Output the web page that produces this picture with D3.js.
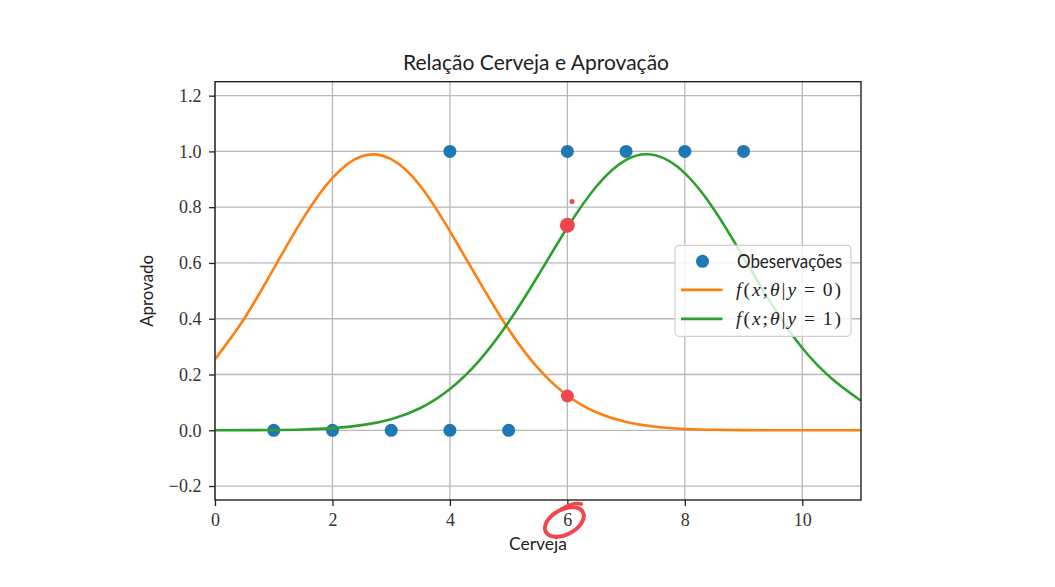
<!DOCTYPE html>
<html><head><meta charset="utf-8">
<script src="https://cdn.jsdelivr.net/npm/d3@7"></script>
<style>html,body{margin:0;padding:0;background:#fff;overflow:hidden}</style>
</head><body><svg id="chart" width="1055" height="587"></svg>
<script>
// ---- data ----
const curveX = [0,0.5,1,1.5,2,2.5,3,3.5,4,4.5,5,5.5,6,6.5,7,7.5,8,8.5,9,9.5,10,10.5,11];
const fY0 = [0.255,0.401,0.580,0.760,0.905,0.983,0.972,0.875,0.714,0.534,0.362,0.223,0.125,0.064,0.030,0.0126,0.0048,0.0017,0.0006,0.0002,0,0,0];
const fY1 = [0.0001,0.0004,0.0011,0.003,0.0077,0.0184,0.040,0.080,0.148,0.250,0.388,0.554,0.727,0.876,0.970,0.986,0.922,0.791,0.620,0.445,0.295,0.186,0.106];
const obsX = [1,2,3,4,5,4,6,7,8,9];
const obsY = [0,0,0,0,0,1,1,1,1,1];
const xTicks = [0,2,4,6,8,10];
const yTicks = [-0.2,0,0.2,0.4,0.6,0.8,1.0,1.2];
const markX = [6,6,6.08];
const markY = [0.735,0.123,0.82];
const titleText = "Relação Cerveja e Aprovação";
const xLabel = "Cerveja";
const yLabel = "Aprovado";
const legendLabels = ["Obeservações","f(x;θ|y = 0)","f(x;θ|y = 1)"];

// ---- drawing ----
const svg = d3.select("#chart");
const L = 215, R = 861, T = 81.7, B = 500;
const x = d3.scaleLinear().domain([0,11]).range([L,R]);
const y = d3.scaleLinear().domain([-0.25,1.25]).range([B,T]);
const serif = "'Liberation Serif','Times New Roman',serif";
const sans = "Lato,'Open Sans','DejaVu Sans',sans-serif";
const C_BLUE="#1f77b4", C_OR="#ff7f0e", C_GR="#2ca02c", C_RED="#f2464f";

svg.append("rect").attr("width",1055).attr("height",587).attr("fill","#fff");
svg.append("defs").append("clipPath").attr("id","clip")
  .append("rect").attr("x",L).attr("y",T).attr("width",R-L).attr("height",B-T);

// grid
const grid = svg.append("g");
grid.selectAll(".gx").data(xTicks).join("line")
  .attr("x1",d=>x(d)).attr("x2",d=>x(d)).attr("y1",T).attr("y2",B)
  .attr("stroke","#b8b8b8").attr("stroke-width",1.3);
grid.selectAll(".gy").data(yTicks).join("line")
  .attr("y1",d=>y(d)).attr("y2",d=>y(d)).attr("x1",L).attr("x2",R)
  .attr("stroke","#b8b8b8").attr("stroke-width",1.3);

// observations
const obs = obsX.map((v,i)=>({x:v,y:obsY[i]}));
svg.append("g").selectAll("circle").data(obs).join("circle")
  .attr("cx",d=>x(d.x)).attr("cy",d=>y(d.y)).attr("r",6.5).attr("fill",C_BLUE);

// curves
const line = d3.line().x(d=>x(d[0])).y(d=>y(d[1])).curve(d3.curveNatural);
const g = svg.append("g").attr("clip-path","url(#clip)");
g.append("path").datum(curveX.map((v,i)=>[v,fY0[i]])).attr("d",line)
  .attr("fill","none").attr("stroke",C_OR).attr("stroke-width",2.6);
g.append("path").datum(curveX.map((v,i)=>[v,fY1[i]])).attr("d",line)
  .attr("fill","none").attr("stroke",C_GR).attr("stroke-width",2.6);

// axes
const xAxis = d3.axisBottom(x).tickValues(xTicks).tickFormat(d3.format("d")).tickSize(6).tickPadding(7.5);
const yAxis = d3.axisLeft(y).tickValues(yTicks).tickFormat(d3.format(".1f")).tickSize(6).tickPadding(7.5);
const gx = svg.append("g").attr("transform",`translate(0,${B})`).call(xAxis);
const gy = svg.append("g").attr("transform",`translate(${L},0)`).call(yAxis);
[gx,gy].forEach(a=>{
  a.select(".domain").remove();
  a.selectAll(".tick line").attr("stroke","#222").attr("stroke-width",1.3);
  a.selectAll(".tick text").attr("font-family",serif).attr("font-size",18).attr("fill","#333");
});
// frame
svg.append("rect").attr("x",L).attr("y",T).attr("width",R-L).attr("height",B-T)
  .attr("fill","none").attr("stroke","#222").attr("stroke-width",1.4);

// title & labels
svg.append("text").attr("x",536).attr("y",70).attr("text-anchor","middle")
  .attr("font-family",sans).attr("font-size",21.5).attr("fill","#222")
  .attr("textLength",266).attr("lengthAdjust","spacingAndGlyphs").text(titleText);
svg.append("text").attr("x",(L+R)/2).attr("y",550).attr("text-anchor","middle")
  .attr("font-family",sans).attr("font-size",18).attr("fill","#222")
  .attr("textLength",58).attr("lengthAdjust","spacingAndGlyphs").text(xLabel);
svg.append("text").attr("transform",`translate(153,${(T+B)/2}) rotate(-90)`).attr("text-anchor","middle")
  .attr("font-family",sans).attr("font-size",18).attr("fill","#222")
  .attr("textLength",72).attr("lengthAdjust","spacingAndGlyphs").text(yLabel);

// legend
const lw = 176, lh = 91;
const lx = R - 10 - lw, ly = (T+B)/2 - lh/2;
const lg = svg.append("g");
lg.append("rect").attr("x",lx).attr("y",ly).attr("width",lw).attr("height",lh).attr("rx",4)
  .attr("fill","#fff").attr("fill-opacity",0.8).attr("stroke","#d0d0d0").attr("stroke-width",1.2);
const rowY = [ly+16, ly+44.5, ly+73.5];
lg.append("circle").attr("cx",lx+27.5).attr("cy",rowY[0]).attr("r",6.5).attr("fill",C_BLUE);
lg.append("line").attr("x1",lx+6).attr("x2",lx+47.5).attr("y1",rowY[1]).attr("y2",rowY[1]).attr("stroke",C_OR).attr("stroke-width",2.6);
lg.append("line").attr("x1",lx+6).attr("x2",lx+47.5).attr("y1",rowY[2]).attr("y2",rowY[2]).attr("stroke",C_GR).attr("stroke-width",2.6);
lg.append("text").attr("x",lx+62).attr("y",rowY[0]+6.5).attr("font-family",sans).attr("font-size",19).attr("fill","#222")
  .attr("textLength",105).attr("lengthAdjust","spacingAndGlyphs").text(legendLabels[0]);
function mathLabel(i){
  const t = lg.append("text").attr("x",lx+61).attr("y",rowY[i]+6.5).attr("font-family",serif)
    .attr("font-size",19.5).attr("fill","#222").attr("textLength",105).attr("lengthAdjust","spacing");
  const s = legendLabels[i];
  for (const ch of s){
    const it = /[a-zθ]/.test(ch);
    t.append("tspan").attr("font-style",it?"italic":"normal").text(ch===" "?"\u2009":ch);
  }
}
mathLabel(1); mathLabel(2);

// red hand annotations
const ann = markX.map((v,i)=>({x:v,y:markY[i]}));
const annR = [7.5,6.5,2.5];
svg.append("g").selectAll("circle").data(ann).join("circle")
  .attr("cx",d=>x(d.x)).attr("cy",d=>y(d.y)).attr("r",(d,i)=>annR[i]).attr("fill",C_RED);
const cx6 = x(xTicks[3]);
svg.append("ellipse").attr("cx",cx6-3).attr("cy",522).attr("rx",21).attr("ry",12.5)
  .attr("transform",`rotate(-28,${cx6-3},522)`)
  .attr("fill","none").attr("stroke",C_RED).attr("stroke-width",4);
svg.append("path").attr("d",`M${cx6-6},${509} Q${cx6+6},${502} ${cx6+14},${504}`)
  .attr("fill","none").attr("stroke",C_RED).attr("stroke-width",3.5).attr("stroke-linecap","round");
</script></body></html>
